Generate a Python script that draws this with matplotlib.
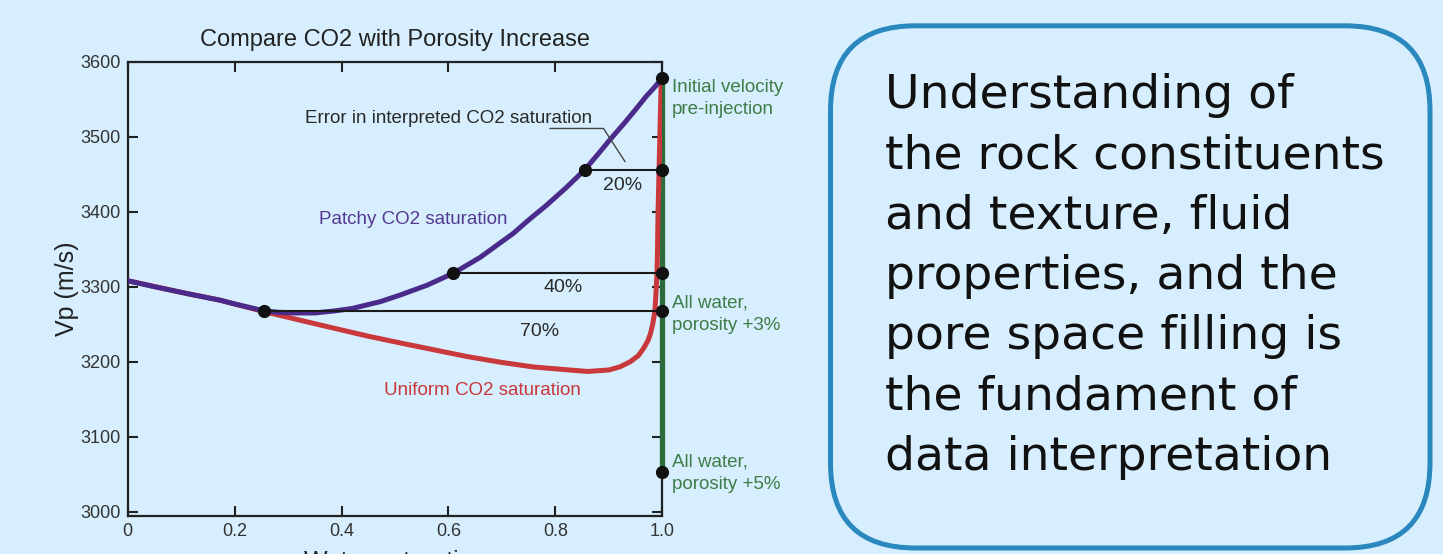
import numpy as np
import matplotlib
matplotlib.use('Agg')
import matplotlib.pyplot as plt
from matplotlib.patches import FancyBboxPatch

plt.rcParams['font.family'] = ['Liberation Sans', 'DejaVu Sans']

#%% data

# patchy saturation curve
sw_patchy = [0, 0.05, 0.11, 0.173, 0.2, 0.254, 0.28, 0.31, 0.35, 0.39, 0.42,
             0.472, 0.51, 0.56, 0.609, 0.659, 0.69, 0.721, 0.75, 0.784, 0.82,
             0.855, 0.88, 0.902, 0.93, 0.952, 0.97, 0.983, 1.0]
vp_patchy = [3308, 3300, 3291, 3282, 3277, 3268, 3266, 3265, 3265, 3268, 3271,
             3280, 3289, 3302, 3318, 3339, 3355, 3371, 3389, 3409, 3432,
             3456, 3477, 3496, 3519, 3538, 3554, 3564, 3578]

# uniform saturation curve
sw_uniform = [0, 0.11, 0.173, 0.254, 0.36, 0.45, 0.51, 0.634, 0.7, 0.759, 0.809,
              0.86, 0.9, 0.92, 0.94, 0.955, 0.965, 0.973, 0.978, 0.982, 0.986,
              0.988, 0.990, 0.991, 0.992, 0.994, 0.996, 0.998]
vp_uniform = [3308, 3291, 3282, 3267, 3249, 3234, 3225, 3207, 3199, 3193, 3190,
              3187, 3189, 3193, 3200, 3208, 3218, 3228, 3238, 3250, 3267,
              3290, 3318, 3350, 3400, 3460, 3520, 3578]

# all-water porosity line at Sw = 1
vp_water = [3053, 3578]

# picked points on the patchy curve and their velocity levels
sw_pick = [0.855, 0.609, 0.254]
vp_pick = [3456, 3318, 3267]
err_labels = ['20%', '40%', '70%']
err_label_sw = [0.926, 0.814, 0.771]
err_label_vp = [3435, 3299, 3240]

# markers on Sw = 1
vp_right = [3578, 3456, 3318, 3267, 3053]

# leader line for the "Error" note
leader_sw = [0.79, 0.89, 0.93]
leader_vp = [3511, 3511, 3467]

side_notes = ['Initial velocity\npre-injection', 'All water,\nporosity +3%', 'All water,\nporosity +5%']
side_vp = [3551, 3263, 3051]

box_lines = ['Understanding of', 'the rock constituents', 'and texture, fluid',
             'properties, and the', 'pore space filling is', 'the fundament of',
             'data interpretation']

bg = '#d6eefd'
purple = '#4a2a8a'
red = '#c9383a'
green_line = '#2e6b3a'
green_txt = '#3f7d47'

#%% figure

fig = plt.figure(figsize=(14.43, 5.54), dpi=100, facecolor=bg)
ax = fig.add_axes([0.0885, 0.0686, 0.3705, 0.82])
ax.set_facecolor(bg)

ax.plot([1.0, 1.0], vp_water, color=green_line, lw=3.8, zorder=2.6,
        solid_capstyle='butt', clip_on=False)
ax.plot(sw_uniform, vp_uniform, color=red, lw=3.6, zorder=3)
ax.plot(sw_patchy, vp_patchy, color=purple, lw=3.6, zorder=4)

for s, v in zip(sw_pick, vp_pick):
    ax.plot([s, 1.0], [v, v], color='#1a1a1a', lw=1.5, zorder=5)
ax.plot(sw_pick, vp_pick, 'o', color='#111111', ms=8.5, zorder=6)
ax.plot([1.0] * len(vp_right), vp_right, 'o', color='#111111', ms=8.5, zorder=6, clip_on=False)

ax.plot(leader_sw, leader_vp, color='#444444', lw=1.0, zorder=5)

for t, s, v in zip(err_labels, err_label_sw, err_label_vp):
    ax.text(s, v, t, ha='center', va='center', fontsize=14, color='#2a2a2a')

ax.text(0.60, 3524, 'Error in interpreted CO2 saturation', ha='center', va='center',
        fontsize=13.5, color='#2a2a2a')
ax.text(0.534, 3390, 'Patchy CO2 saturation', ha='center', va='center',
        fontsize=13.5, color='#553a92')
ax.text(0.663, 3162, 'Uniform CO2 saturation', ha='center', va='center',
        fontsize=13.5, color='#c8383a')

for t, v in zip(side_notes, side_vp):
    ax.text(1.018, v, t, ha='left', va='center', fontsize=13.5, color=green_txt,
            linespacing=1.4, clip_on=False)

ax.set_xlim(0, 1)
ax.set_ylim(2994.3, 3600)
ax.set_xticks([0, 0.2, 0.4, 0.6, 0.8, 1.0])
ax.set_xticklabels(['0', '0.2', '0.4', '0.6', '0.8', '1.0'])
ax.set_yticks(np.arange(3000, 3601, 100))
ax.tick_params(direction='in', length=7, width=1.5, top=True, right=True,
               labelsize=13, labelcolor='#333333', color='#222222', pad=5)
for sp in ax.spines.values():
    sp.set_linewidth(1.6)
    sp.set_color('#222222')

ax.set_title('Compare CO2 with Porosity Increase', fontsize=17, color='#222222', pad=11)
ax.set_ylabel('Vp (m/s)', fontsize=18, color='#222222', labelpad=1)
ax.set_xlabel('Water saturation', fontsize=18, color='#222222', labelpad=7)

#%% text box on the right, drawn in pixel units

axb = fig.add_axes([0, 0, 1, 1])
axb.set_xlim(0, 1443)
axb.set_ylim(554, 0)
axb.axis('off')
axb.patch.set_alpha(0)

box = FancyBboxPatch((830.5, 25.8), 599.5, 522.2,
                     boxstyle='round,pad=0,rounding_size=85',
                     fc='none', ec='#2a88bf', lw=3.6)
axb.add_patch(box)

for i, line in enumerate(box_lines):
    axb.text(885, 108.3 + i * 60.2, line, ha='left', va='baseline',
             fontsize=34, color='#111111', family='DejaVu Sans')

fig.savefig('out.png', dpi=100, facecolor=bg)
